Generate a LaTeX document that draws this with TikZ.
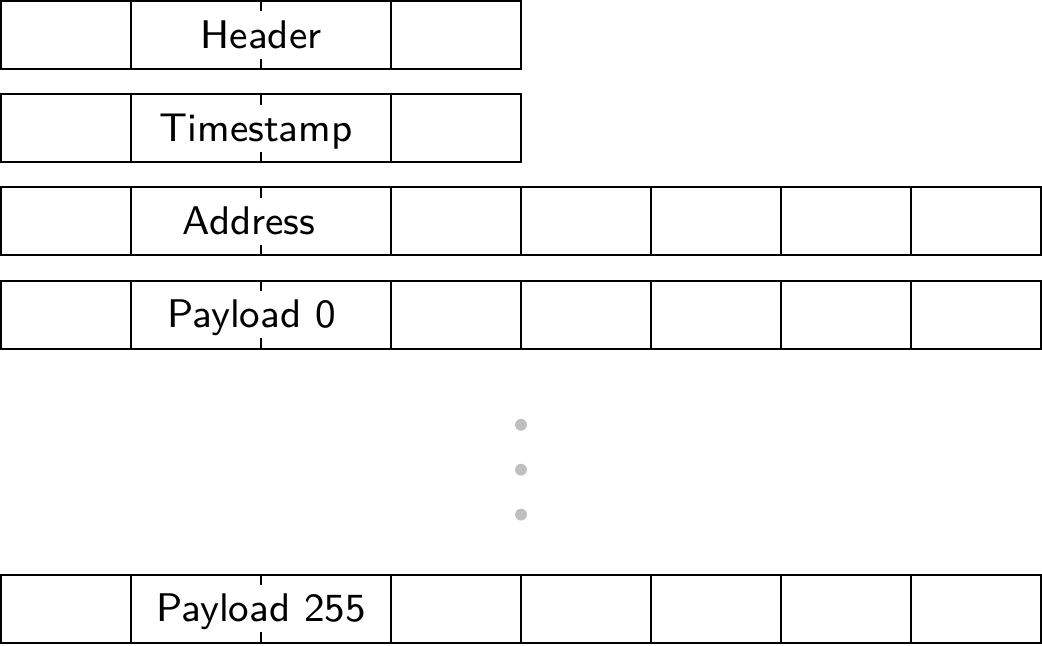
\documentclass[tikz,border=0pt]{standalone}
\usepackage{tikz}
\usetikzlibrary{positioning}

\tikzset{
  cell/.style={draw, rectangle, minimum width=1cm, minimum height=0.523cm, inner sep=0pt, outer sep=0pt},
  wide/.style={cell, minimum width=2cm},
  field/.style={fill=white, inner sep=1pt, text height=7pt, text depth=1.3pt, font=\fontsize{8.75pt}{10.5pt}\selectfont\sffamily},
  dot/.style={circle, fill=black!25, inner sep=0pt, minimum size=2.6pt}
}

\begin{document}
\begin{tikzpicture}
    \useasboundingbox (-0.008,0.008) rectangle (8.008,-4.954);

    % Short rows
    \node (hdr1) [cell] at (0.5,-0.2615) {};
    \node (hdr2) [wide, right=0pt of hdr1] {};
    \node (hdr3) [cell, right=0pt of hdr2] {};

    \node (ts1) [cell] at (0.5,-0.9775) {};
    \node (ts2) [wide, right=0pt of ts1] {};
    \node (ts3) [cell, right=0pt of ts2] {};

    % Long rows
    \foreach \row/\y in {addr/-1.6935, pl0/-2.4125, pln/-4.6765} {
        \node (\row1) [cell] at (0.5,\y) {};
        \node (\row2) [wide, right=0pt of \row1] {};
        \node (\row3) [cell, right=0pt of \row2] {};
        \node (\row4) [cell, right=0pt of \row3] {};
        \node (\row5) [cell, right=0pt of \row4] {};
        \node (\row6) [cell, right=0pt of \row5] {};
        \node (\row7) [cell, right=0pt of \row6] {};
    }

    % Dashed split and labels
    \foreach \row/\dx/\txt in {hdr/0/Header, ts/-0.038/Timestamp, addr/-0.092/Address, pl0/-0.073/Payload 0, pln/0/Payload 255} {
        \draw[dashed] (\row2.north) -- (\row2.south);
        \node (\row lbl) [field, xshift=\dx cm] at (\row2) {\txt};
    }

    % Gap dots
    \node (gap1) [dot] at (4,-3.26) {};
    \node (gap2) [dot, below=0.24cm of gap1] {};
    \node (gap3) [dot, below=0.24cm of gap2] {};
\end{tikzpicture}
\end{document}
